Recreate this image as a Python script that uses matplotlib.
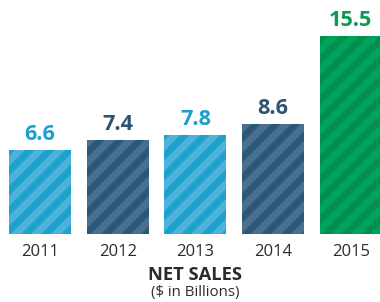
import matplotlib.pyplot as plt

years = ['2011', '2012', '2013', '2014', '2015']
sales = [6.6, 7.4, 7.8, 8.6, 15.5]

# face (lighter stripe), hatch (darker stripe), label colour
face_colors = ['#4cb2da', '#4a6e90', '#4cb2da', '#4a6e90', '#00a35c']
stripe_colors = ['#1ca2cc', '#2c5877', '#1ca2cc', '#2c5877', '#008f4f']
label_colors = ['#1b9fcf', '#2c5371', '#1b9fcf', '#2c5371', '#0a9a52']

plt.rcParams['font.family'] = ['Open Sans', 'DejaVu Sans']
plt.rcParams['hatch.linewidth'] = 4.0

dpi = 120
fig = plt.figure(figsize=(380 / dpi, 302 / dpi), dpi=dpi)
ax = fig.add_axes([0, 0.225, 1, 0.775])

for i, (yr, v) in enumerate(zip(years, sales)):
    ax.bar(i, v, width=0.8, color=face_colors[i], edgecolor=stripe_colors[i],
           hatch='//', linewidth=0)
    ax.annotate(f'{v}', (i, v), xytext=(0, 3), textcoords='offset points',
                ha='center', va='bottom', fontsize=13, fontweight='bold',
                color=label_colors[i])

ax.set_xlim(-0.515, 4.376)
ax.set_ylim(0, 18.35)
ax.set_xticks(range(len(years)))
ax.set_xticklabels(years, fontsize=10, color='#2b2b2b')
ax.tick_params(axis='x', length=0, pad=6)
ax.set_yticks([])
for s in ax.spines.values():
    s.set_visible(False)

fig.text(0.513, 0.088, 'NET SALES', ha='center', va='center',
         fontsize=11, fontweight='bold', color='#2b2b2b')
fig.text(0.513, 0.03, '($ in Billions)', ha='center', va='center',
         fontsize=9, color='#2b2b2b')

fig.savefig('out.png', dpi=dpi)
